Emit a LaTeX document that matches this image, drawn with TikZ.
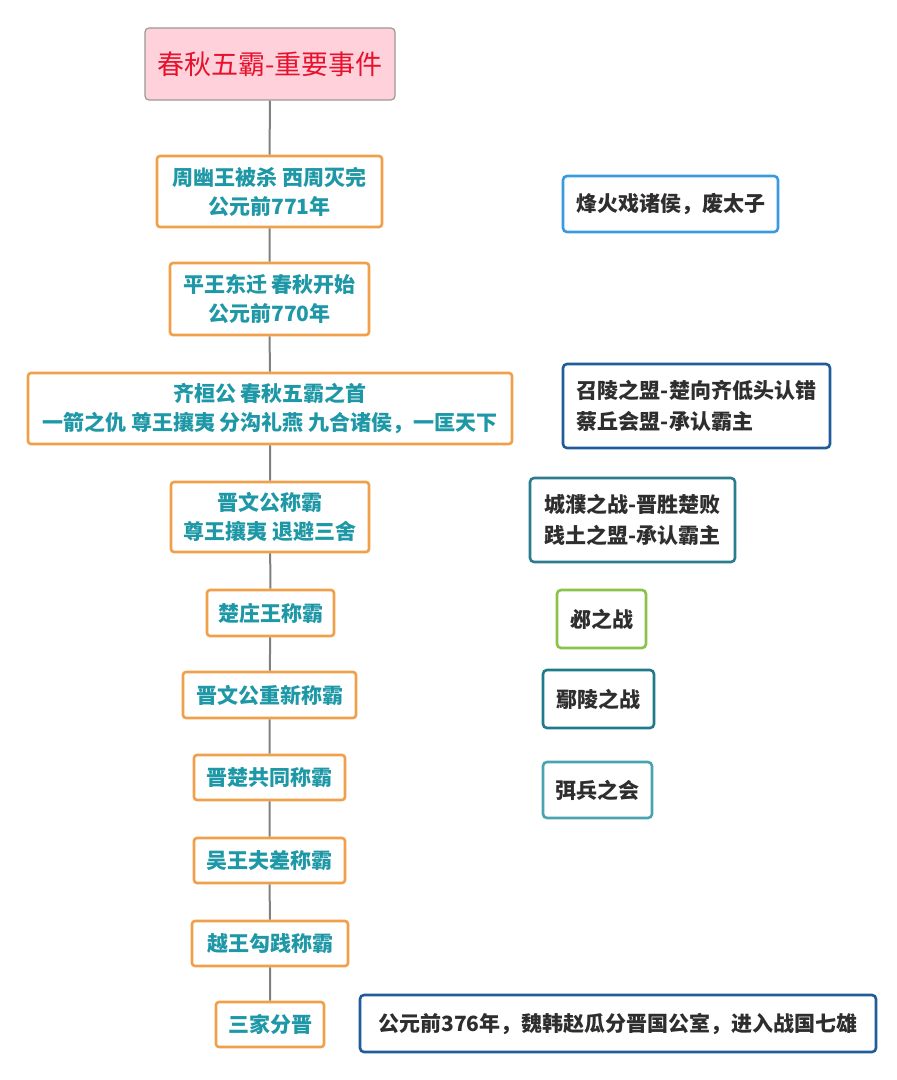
\documentclass[tikz,border=0pt]{standalone}
\usepackage{fontspec}
\setmainfont{Noto Sans CJK SC}
\definecolor{evtline}{HTML}{F0A04B}
\definecolor{evttext}{HTML}{1E98A6}
\definecolor{notetext}{HTML}{2E2E2E}
\definecolor{stemgray}{HTML}{808080}
\definecolor{titlefill}{HTML}{FFD1DA}
\definecolor{titletext}{HTML}{E8112D}
\definecolor{noteblue}{HTML}{3A9AE0}
\definecolor{notenavy}{HTML}{1F5C99}
\definecolor{noteteal}{HTML}{2A7C8E}
\definecolor{notegreen}{HTML}{8BC34A}
\definecolor{notepetrol}{HTML}{1F7A8C}
\definecolor{notecyan}{HTML}{4AA3B0}
\tikzset{
  event/.style={draw=evtline, line width=1.3pt, rounded corners=1.5pt, fill=white, text=evttext, font=\bfseries\fontsize{10.5}{14.5}\selectfont, align=center, inner sep=0pt},
  note/.style={draw, line width=1.3pt, rounded corners=2pt, fill=white, text=notetext, font=\bfseries\fontsize{10.5}{15.5}\selectfont, align=left, inner sep=0pt},
  stem/.style={draw=stemgray, line width=1pt}
}
\begin{document}
\begin{tikzpicture}[x=0.5pt, y=-0.5pt]
\useasboundingbox (0,0) rectangle (896,1080);
\node (title) at (270,64) [draw=stemgray!80, line width=0.6pt, rounded corners=2pt, fill=titlefill, text=titletext, font=\fontsize{13.5}{16}\selectfont, minimum width=125pt, minimum height=36pt, inner sep=0pt] {春秋五霸-重要事件};
\node (youwang) at (269.5,191.5) [event, minimum width=112.5pt, minimum height=35.5pt] {周幽王被杀 西周灭完\\公元前771年};
\node (pingwang) at (269.5,299) [event, minimum width=99.5pt, minimum height=36pt] {平王东迁 春秋开始\\公元前770年};
\node (huangong) at (270,408.5) [event, minimum width=242pt, minimum height=35.5pt] {齐桓公 春秋五霸之首\\一箭之仇 尊王攘夷 分沟礼燕 九合诸侯，一匡天下};
\node (wengong) at (270,517) [event, minimum width=99pt, minimum height=35pt] {晋文公称霸\\尊王攘夷 退避三舍};
\node (zhuangwang) at (270.5,613) [event, minimum width=63.5pt, minimum height=23pt] {楚庄王称霸};
\node (chongxin) at (269.5,695) [event, minimum width=86.5pt, minimum height=23pt] {晋文公重新称霸};
\node (gongtong) at (269.5,777.5) [event, minimum width=75.5pt, minimum height=22.5pt] {晋楚共同称霸};
\node (fuchai) at (269.5,860.5) [event, minimum width=75.5pt, minimum height=22.5pt] {吴王夫差称霸};
\node (goujian) at (270,943.5) [event, minimum width=78pt, minimum height=22.5pt] {越王勾践称霸};
\node (sanjia) at (270,1024.5) [event, minimum width=54pt, minimum height=22.5pt] {三家分晋};
\node (fenghuo) at (670.5,204) [note, draw=noteblue, minimum width=107.5pt, minimum height=28pt] {烽火戏诸侯，废太子};
\node (shaoling) at (696.5,406) [note, draw=notenavy, minimum width=133.5pt, minimum height=42pt] {召陵之盟-楚向齐低头认错\\蔡丘会盟-承认霸主};
\node (chengpu) at (632.5,520) [note, draw=noteteal, minimum width=102.5pt, minimum height=42pt] {城濮之战-晋胜楚败\\践土之盟-承认霸主};
\node (bi) at (601.5,619) [note, draw=notegreen, minimum width=44.5pt, minimum height=29pt] {邲之战};
\node (yanling) at (598.5,699) [note, draw=notepetrol, minimum width=55.5pt, minimum height=29pt] {鄢陵之战};
\node (mibing) at (597.5,790) [note, draw=notecyan, minimum width=54.5pt, minimum height=28pt] {弭兵之会};
\node (qixiong) at (618,1023.5) [note, draw=notenavy, minimum width=258pt, minimum height=28.5pt] {公元前376年，魏韩赵瓜分晋国公室，进入战国七雄};
\draw [stem] (title) -- (youwang) (youwang) -- (pingwang) (pingwang) -- (huangong) (huangong) -- (wengong) (wengong) -- (zhuangwang) (zhuangwang) -- (chongxin) (chongxin) -- (gongtong) (gongtong) -- (fuchai) (fuchai) -- (goujian) (goujian) -- (sanjia);
\end{tikzpicture}
\end{document}
